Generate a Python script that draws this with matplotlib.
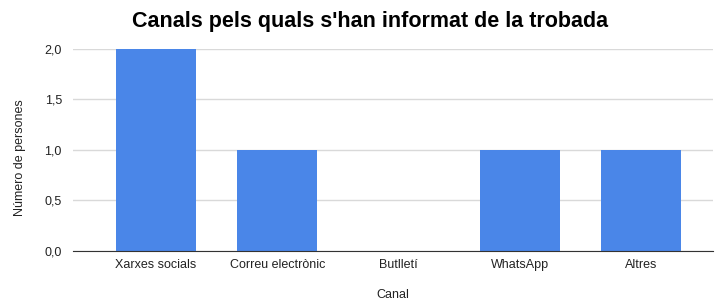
import matplotlib
matplotlib.use("Agg")
import matplotlib.pyplot as plt
from matplotlib.ticker import FuncFormatter

# values
canals = ["Xarxes socials", "Correu electrònic", "Butlletí", "WhatsApp", "Altres"]
persones = [2, 1, 0, 1, 1]
yticks = [0.0, 0.5, 1.0, 1.5, 2.0]

plt.rcParams['font.family'] = ['Liberation Sans', 'DejaVu Sans']

fig = plt.figure(figsize=(7.15, 3.07), dpi=100)
ax = fig.add_axes([0.1021, 0.1834, 0.8951, 0.657])

x = range(len(canals))
ax.bar(x, persones, width=0.66, color="#4a86e8", zorder=3)

ax.set_xlim(-0.685, 4.594)
ax.set_ylim(0, 2.0)
ax.set_yticks(yticks)
ax.yaxis.set_major_formatter(FuncFormatter(lambda v, p: f"{v:.1f}".replace(".", ",")))
ax.set_xticks(list(x))
ax.set_xticklabels(canals)

ax.grid(axis="y", color="#d9d9d9", linewidth=1, zorder=0)
for s in ["top", "right", "left"]:
    ax.spines[s].set_visible(False)
ax.spines["bottom"].set_color("#333333")
ax.spines["bottom"].set_zorder(4)
ax.tick_params(axis="both", length=0, labelsize=9, colors="#222222", pad=6)
ax.tick_params(axis="y", pad=8)

ax.set_xlabel("Canal", fontsize=9, color="#222222", labelpad=13)
ax.set_ylabel("Número de persones", fontsize=9, color="#222222")
ax.yaxis.set_label_coords(-0.074, 0.46)

fig.text(0.517, 0.93, "Canals pels quals s'han informat de la trobada",
         ha="center", va="center", fontsize=15.5, fontweight="bold", color="#000000")

fig.savefig("out.png", dpi=100)
